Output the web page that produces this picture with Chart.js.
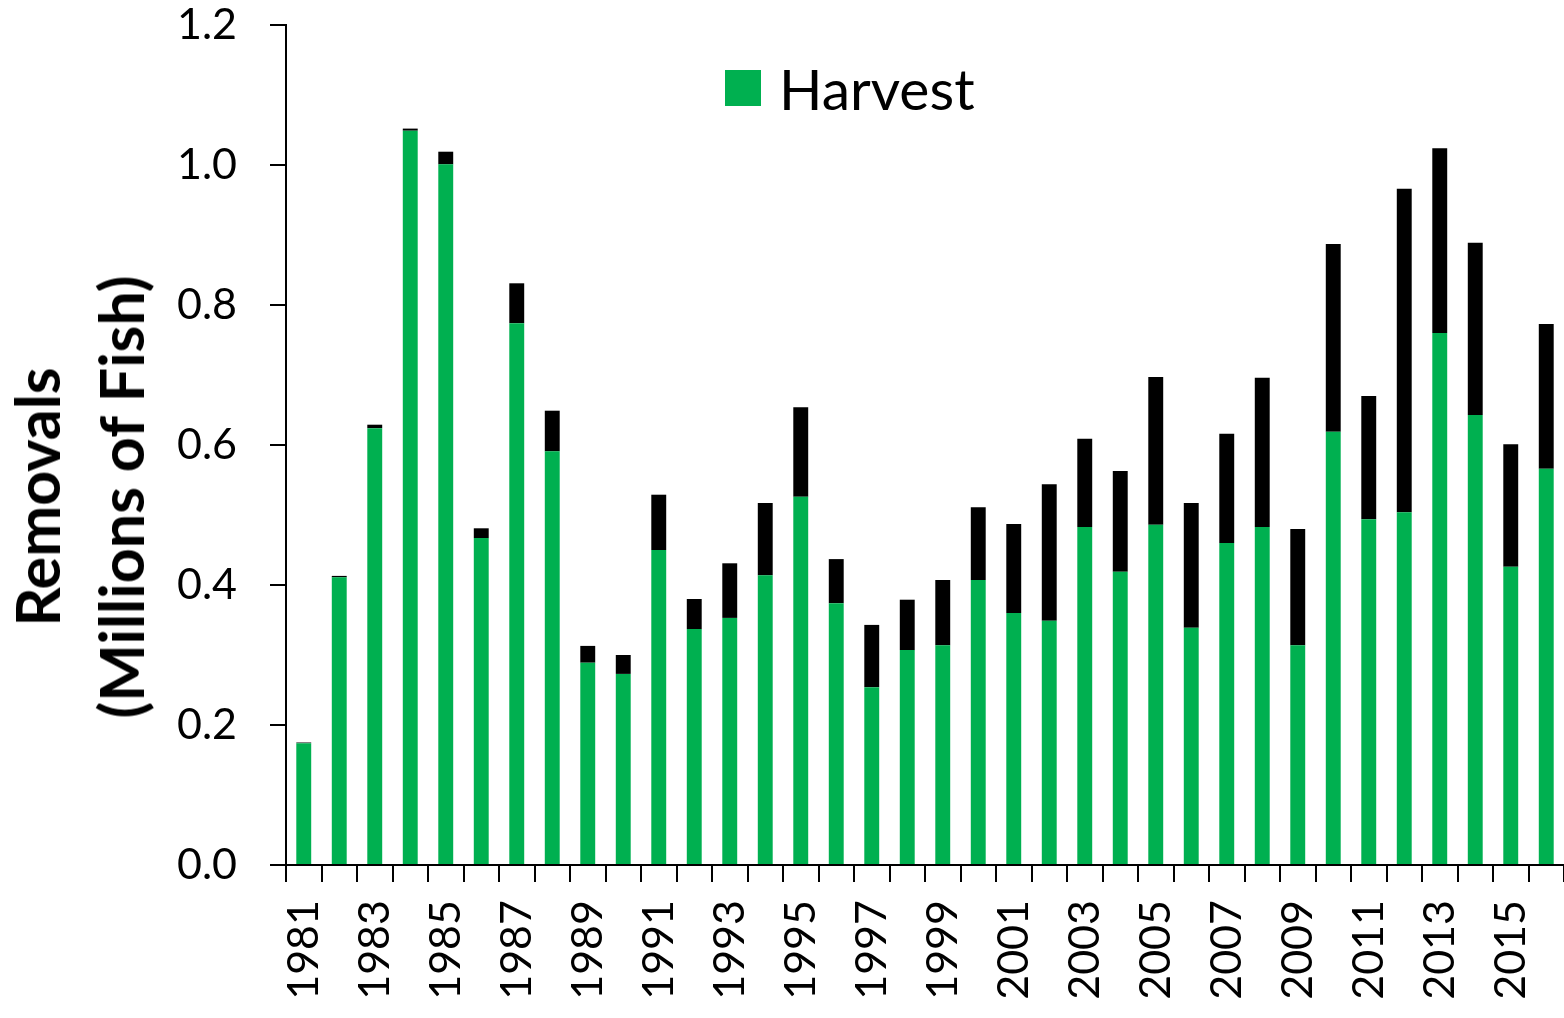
<!DOCTYPE html>
<html>
<head>
<meta charset="utf-8">
<script src="https://cdn.jsdelivr.net/npm/chart.js@4.4.1/dist/chart.umd.min.js"></script>
<style>
  body { margin: 0; background: #fff; }
  #wrap { position: relative; width: 1564px; height: 1018px; }
  #legend { position: absolute; left: 725px; top: 54px; display: flex; align-items: center;
            font-family: Lato, sans-serif; font-size: 57px; color: #000; }
  #legend .box { width: 36px; height: 36px; background: #00B050; margin-right: 18px; }
  #ytitle { position: absolute; left: 79px; top: 497px; transform: translate(-50%, -50%) rotate(-90deg);
            font-family: Lato, sans-serif; font-weight: bold; font-size: 61px; line-height: 84px;
            text-align: center; white-space: nowrap; color: #000; }
</style>
</head>
<body>
<div id="wrap">
  <canvas id="chart" width="1564" height="1018"></canvas>
  <div id="legend"><span class="box"></span><span>Harvest</span></div>
  <div id="ytitle">Removals<br>(Millions of Fish)</div>
</div>
<script>
// Données (millions de poissons)
const years = ['1981','1982','1983','1984','1985','1986','1987','1988','1989','1990',
               '1991','1992','1993','1994','1995','1996','1997','1998','1999','2000',
               '2001','2002','2003','2004','2005','2006','2007','2008','2009','2010',
               '2011','2012','2013','2014','2015','2016'];

const harvest = [0.174, 0.411, 0.624, 1.049, 1.001, 0.467, 0.774, 0.591, 0.289, 0.273,
                 0.450, 0.337, 0.353, 0.414, 0.526, 0.374, 0.254, 0.307, 0.314, 0.407,
                 0.360, 0.349, 0.483, 0.419, 0.486, 0.339, 0.460, 0.483, 0.314, 0.619,
                 0.494, 0.504, 0.760, 0.643, 0.426, 0.566];

const discards = [0.001, 0.002, 0.005, 0.003, 0.018, 0.014, 0.057, 0.058, 0.024, 0.027,
                  0.079, 0.043, 0.078, 0.103, 0.128, 0.063, 0.089, 0.072, 0.093, 0.104,
                  0.127, 0.195, 0.126, 0.144, 0.211, 0.178, 0.156, 0.213, 0.166, 0.268,
                  0.176, 0.462, 0.264, 0.246, 0.175, 0.207];

const yTicks = [0, 0.2, 0.4, 0.6, 0.8, 1.0, 1.2];

const tickFont = { family: "Lato, sans-serif", size: 43 };

new Chart(document.getElementById('chart'), {
    type: 'bar',
    data: {
        labels: years,
        datasets: [
            {
                label: 'Harvest',
                data: harvest,
                backgroundColor: '#00B050',
                borderWidth: 0,
                barPercentage: 0.42,
                categoryPercentage: 1.0
            },
            {
                label: 'Dead discards',
                data: discards,
                backgroundColor: '#000000',
                borderWidth: 0,
                barPercentage: 0.42,
                categoryPercentage: 1.0
            }
        ]
    },
    options: {
        responsive: false,
        animation: false,
        layout: { padding: { top: 25, right: 0, left: 0, bottom: 0 } },
        plugins: {
            legend: { display: false },
            tooltip: { enabled: false }
        },
        scales: {
            x: {
                stacked: true,
                grid: {
                    offset: true,
                    drawOnChartArea: false,
                    drawTicks: true,
                    tickLength: 17,
                    color: '#000',
                    lineWidth: 2
                },
                border: { display: true, color: '#000', width: 2 },
                ticks: {
                    autoSkip: false,
                    minRotation: 90,
                    maxRotation: 90,
                    padding: 18,
                    color: '#000',
                    font: tickFont,
                    callback: (v, i) => (i % 2 === 0 ? years[i] : '')
                },
                afterFit: (scale) => {
                    scale.height = 153;
                    scale.paddingLeft = 0;
                    scale.paddingRight = 0;
                }
            },
            y: {
                stacked: true,
                min: 0,
                max: 1.2,
                afterBuildTicks: (scale) => { scale.ticks = yTicks.map(v => ({ value: v })); },
                grid: {
                    drawOnChartArea: false,
                    drawTicks: true,
                    tickLength: 16,
                    color: '#000',
                    lineWidth: 2
                },
                border: { display: true, color: '#000', width: 2 },
                ticks: {
                    padding: 33,
                    color: '#000',
                    font: tickFont,
                    callback: (v) => v.toFixed(1)
                },
                afterFit: (scale) => {
                    scale.width = 286;
                    scale.paddingTop = 0;
                    scale.paddingBottom = 0;
                }
            }
        }
    }
});
</script>
</body>
</html>
